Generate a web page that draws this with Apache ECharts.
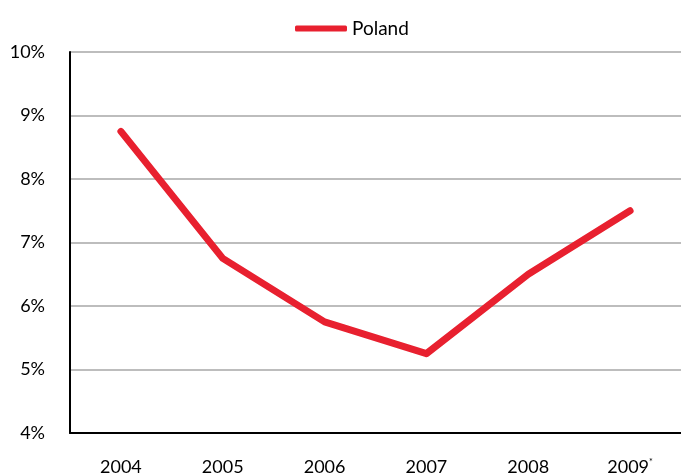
<!DOCTYPE html>
<html>
<head>
<meta charset="utf-8">
<script src="https://cdn.jsdelivr.net/npm/echarts@6/dist/echarts.min.js"></script>
<style>
  html, body { margin: 0; padding: 0; background: #fff; }
  #chart { width: 681px; height: 476px; }
</style>
</head>
<body>
<div id="chart"></div>
<script>
// Years on the category axis (2009 is an estimate, marked with an asterisk)
var years = ['2004', '2005', '2006', '2007', '2008', '2009'];
var estimatedYears = ['2009'];
// Rate for Poland, in percent
var poland = [8.75, 6.75, 5.75, 5.25, 6.5, 7.5];
var seriesName = 'Poland';

var FONT = 'Lato, "Open Sans", sans-serif';
var RED = '#e8202f';

var chart = echarts.init(document.getElementById('chart'), null, { renderer: 'canvas' });

chart.setOption({
  animation: false,
  backgroundColor: '#ffffff',
  legend: {
    data: [seriesName],
    top: 14,
    left: 290,
    icon: 'roundRect',
    itemWidth: 52,
    itemHeight: 6,
    itemGap: 6,
    textStyle: { fontFamily: FONT, fontSize: 19, color: '#000' }
  },
  grid: { left: 70, right: -1, top: 52, bottom: 43, containLabel: false },
  xAxis: {
    type: 'category',
    data: years,
    boundaryGap: true,
    axisLine: { show: true, lineStyle: { color: '#000', width: 2 } },
    axisTick: { show: false },
    axisLabel: {
      interval: 0,
      margin: 25,
      fontFamily: FONT,
      fontSize: 18,
      color: '#000',
      formatter: function (v) {
        return estimatedYears.indexOf(v) >= 0 ? v + '{sup|*}' : v;
      },
      rich: {
        sup: { fontFamily: FONT, fontSize: 9, color: '#000', verticalAlign: 'top', padding: [0, 0, 9, 0] }
      }
    },
    splitLine: { show: false }
  },
  yAxis: {
    type: 'value',
    min: 4,
    max: 10,
    interval: 1,
    axisLine: { show: true, lineStyle: { color: '#000', width: 2 } },
    axisTick: { show: false },
    axisLabel: {
      margin: 25,
      fontFamily: FONT,
      fontSize: 18,
      color: '#000',
      formatter: function (v) { return v + '%'; }
    },
    splitLine: { show: true, lineStyle: { color: '#bdbdbd', width: 2 } }
  },
  series: [{
    name: seriesName,
    type: 'line',
    data: poland,
    symbol: 'none',
    color: RED,
    lineStyle: { color: RED, width: 7, cap: 'round', join: 'round' },
    itemStyle: { color: RED }
  }]
});
</script>
</body>
</html>
